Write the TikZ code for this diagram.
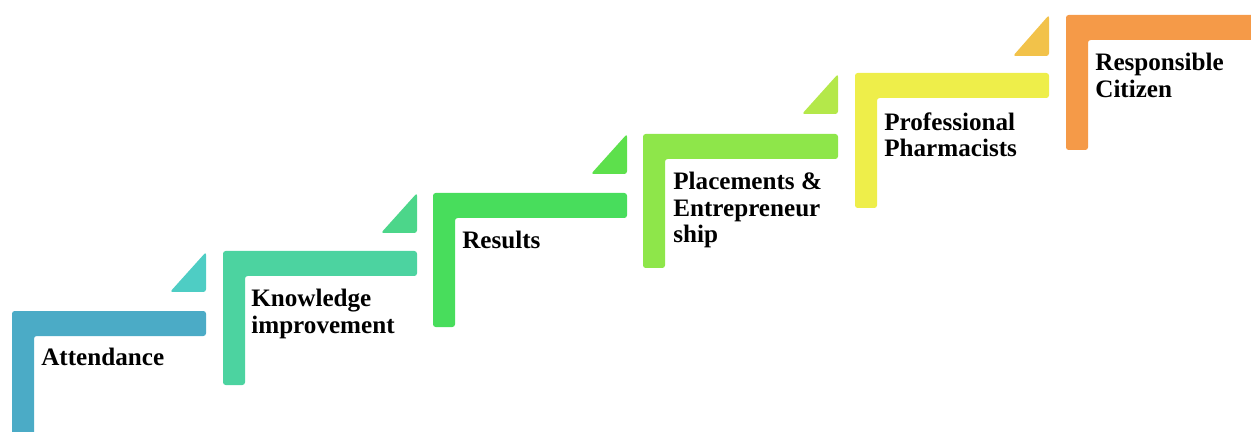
\documentclass[tikz,border=0pt]{standalone}
\usepackage{fontspec}
\setmainfont{Liberation Serif}
\definecolor{stepA}{HTML}{4BABC6}
\definecolor{stepB}{HTML}{4CD3A0}
\definecolor{stepC}{HTML}{48DD5C}
\definecolor{stepD}{HTML}{8EE64A}
\definecolor{stepE}{HTML}{EEEE4A}
\definecolor{stepF}{HTML}{F59A48}
\definecolor{triA}{HTML}{4ECDC4}
\definecolor{triB}{HTML}{4CD68A}
\definecolor{triC}{HTML}{5DE04C}
\definecolor{triD}{HTML}{B4E84A}
\definecolor{triE}{HTML}{F2C24A}
\begin{document}
\begin{tikzpicture}[x=0.02cm,y=-0.02cm,
    stair/.style={rounded corners=1.5pt},
    steptext/.style={anchor=north west,inner sep=0pt,align=left,
      font=\bfseries\fontsize{14.3}{15}\selectfont}]
  \useasboundingbox (0,0) rectangle (1251,432);
  \clip (0,0) rectangle (1251,432);

  % stairs
  \begin{scope}
      \fill[stair,stepA] (12,445) -- (12,311) -- (206,311) -- (206,336) -- (34,336) -- (34,445) -- cycle;
      \fill[stair,stepB] (223,385) -- (223,251) -- (417,251) -- (417,276) -- (245,276) -- (245,385) -- cycle;
      \fill[stair,stepC] (433,327) -- (433,193) -- (627,193) -- (627,218) -- (455,218) -- (455,327) -- cycle;
      \fill[stair,stepD] (643,268) -- (643,134) -- (838,134) -- (838,159) -- (665,159) -- (665,268) -- cycle;
      \fill[stair,stepE] (855,208) -- (855,73) -- (1049,73) -- (1049,98) -- (877,98) -- (877,208) -- cycle;
      \fill[stair,stepF] (1066,150) -- (1066,15) -- (1270,15) -- (1270,40) -- (1088,40) -- (1088,150) -- cycle;
  \end{scope}

  % small wedges between the stairs
  \begin{scope}
      \fill[stair,triA] (206,252) -- (206,292) -- (170,292) -- cycle;
      \fill[stair,triB] (417,193) -- (417,233) -- (381,233) -- cycle;
      \fill[stair,triC] (627,134) -- (627,174) -- (591,174) -- cycle;
      \fill[stair,triD] (838,74) -- (838,114) -- (802,114) -- cycle;
      \fill[stair,triE] (1049,15) -- (1049,56) -- (1013,56) -- cycle;
  \end{scope}

  % labels
  \begin{scope}[every node/.style={steptext}]
      \node (att) at (41,348) {Attendance};
      \node (know) at (251,289) {Knowledge\\improvement};
      \node (res) at (462,231) {Results};
      \node (place) at (673,172) {Placements \&\\Entrepreneur\\ship};
      \node (prof) at (884,112) {Professional\\Pharmacists};
      \node (cit) at (1095,53) {Responsible\\Citizen};
  \end{scope}
\end{tikzpicture}
\end{document}
